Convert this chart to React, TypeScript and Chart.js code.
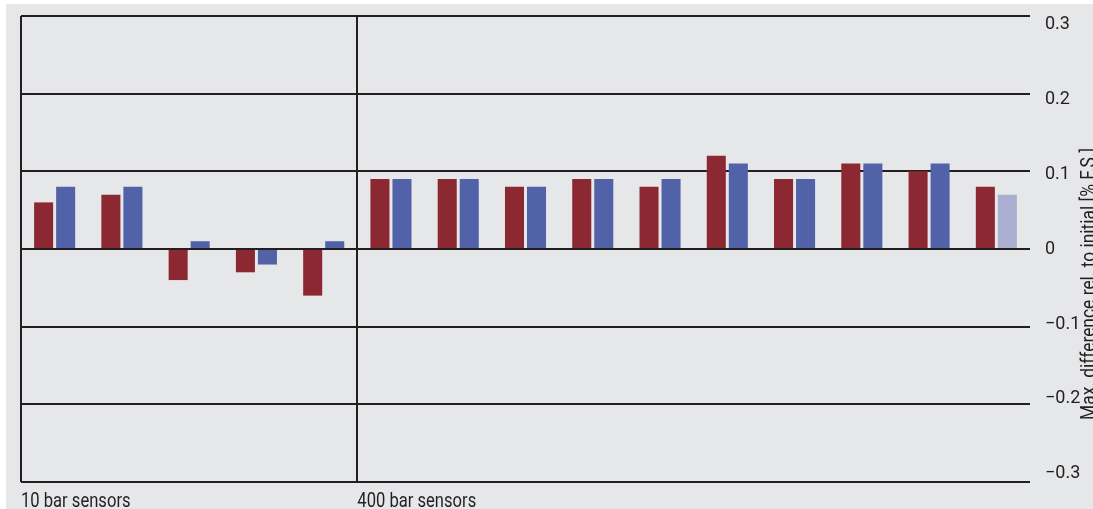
import React, { useEffect, useRef } from "react";
import { Chart, registerables } from "chart.js";

Chart.register(...registerables);

const categories = [
  "10-1", "10-2", "10-3", "10-4", "10-5",
  "400-1", "400-2", "400-3", "400-4", "400-5",
  "400-6", "400-7", "400-8", "400-9", "400-10",
];
const seriesRed = [0.06, 0.07, -0.04, -0.03, -0.06, 0.09, 0.09, 0.08, 0.09, 0.08, 0.12, 0.09, 0.11, 0.10, 0.08];
const seriesBlue = [0.08, 0.08, 0.01, -0.02, 0.01, 0.09, 0.09, 0.08, 0.09, 0.09, 0.11, 0.09, 0.11, 0.11, 0.07];
const yTickValues = [0.3, 0.2, 0.1, 0, -0.1, -0.2, -0.3];
const sectionLabels = ["10 bar sensors", "400 bar sensors"];
const sectionStarts = [0, 5];
const yTitle = "Max. difference rel. to initial [% F.S.]";

const RED = "#8b2832";
const BLUE = "#5262a8";
const BLUE_LIGHT = "#abb0d2";
const DARK = "#231f20";
const FONT = "Roboto, 'DejaVu Sans Condensed', sans-serif";

const fmt = (v: number) => {
  if (Math.abs(v) < 1e-9) return "0";
  const s = Math.abs(v).toFixed(1);
  return v < 0 ? "\u2212" + s : s;
};

const textPlugin = {
  id: "extraText",
  afterDraw(chart: any) {
    const { ctx, chartArea, scales } = chart;
    const x = scales.x;
    ctx.save();
    ctx.fillStyle = DARK;
    ctx.font = `21px ${FONT}`;
    ctx.textAlign = "left";
    ctx.textBaseline = "alphabetic";
    const half = (x.getPixelForValue(1) - x.getPixelForValue(0)) / 2;
    sectionLabels.forEach((label, i) => {
      const px = x.getPixelForValue(sectionStarts[i]) - half;
      ctx.save();
      ctx.translate(px, chartArea.bottom + 25);
      ctx.scale(0.79, 1);
      ctx.fillText(label, 0, 0);
      ctx.restore();
    });
    // rotated y title, partially beyond the right edge
    ctx.font = `20px ${FONT}`;
    const w = ctx.measureText(yTitle).width;
    ctx.translate(chart.width + 2, (chartArea.top + chartArea.bottom) / 2 + 35);
    ctx.rotate(-Math.PI / 2);
    ctx.scale(272 / w, 1);
    ctx.textAlign = "center";
    ctx.fillText(yTitle, 0, 0);
    ctx.restore();
  },
};

export default function App() {
  const ref = useRef<HTMLCanvasElement>(null);
  useEffect(() => {
    if (!ref.current) return;
    const chart = new Chart(ref.current, {
      type: "bar",
      data: {
        labels: categories,
        datasets: [
          {
            label: "Series A",
            data: seriesRed,
            backgroundColor: RED,
            categoryPercentage: 0.655,
            barPercentage: 0.864,
          },
          {
            label: "Series B",
            data: seriesBlue,
            backgroundColor: seriesBlue.map((_, i) => (i === seriesBlue.length - 1 ? BLUE_LIGHT : BLUE)),
            categoryPercentage: 0.655,
            barPercentage: 0.864,
          },
        ],
      },
      options: {
        animation: false,
        responsive: true,
        maintainAspectRatio: false,
        layout: { padding: { top: 12, left: 15, right: 0, bottom: 27 } },
        plugins: { legend: { display: false }, tooltip: { enabled: false }, title: { display: false } },
        scales: {
          x: {
            type: "category",
            z: 1,
            ticks: { display: false },
            border: { display: false },
            grid: {
              offset: true,
              drawTicks: false,
              lineWidth: 2,
              color: (c: any) => (c.index === 0 || c.index === 5 || c.index === categories.length ? DARK : "rgba(0,0,0,0)"),
            },
            afterFit: (s: any) => { s.height = 0; },
          },
          y: {
            position: "right",
            min: -0.3,
            max: 0.3,
            z: 1,
            ticks: { display: false, stepSize: 0.1 },
            border: { display: false },
            grid: { drawTicks: false, lineWidth: 2, color: DARK },
            afterFit: (s: any) => { s.width = 0; },
          },
          yl: {
            position: "right",
            min: -0.311,
            max: 0.312,
            grid: { display: false, drawTicks: true, tickLength: 15 },
            border: { display: false },
            afterBuildTicks: (s: any) => { s.ticks = yTickValues.map((v) => ({ value: v })); },
            ticks: {
              padding: 0,
              color: DARK,
              font: { family: FONT, size: 18 },
              callback: (v: any) => fmt(Number(v)),
            },
            afterFit: (s: any) => { s.width = 63; },
          },
        },
      },
      plugins: [textPlugin],
    } as any);
    return () => chart.destroy();
  }, []);
  return (
    <div style={{ position: "fixed", left: 0, top: 0, width: "100vw", height: "100vh", background: "#ffffff" }}>
      <div style={{ position: "absolute", left: 6, top: 4, right: 0, bottom: 0, background: "#e6e7e9" }}>
        <canvas ref={ref} />
      </div>
    </div>
  );
}
